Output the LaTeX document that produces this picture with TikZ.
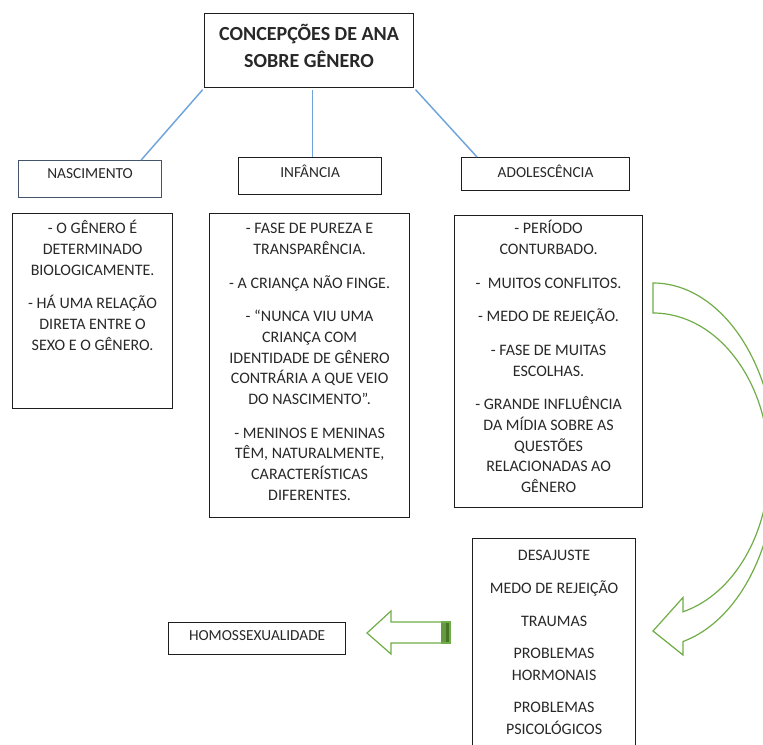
\documentclass[tikz,border=0pt]{standalone}
\usepackage{fontspec}
\setmainfont{Carlito}
\usetikzlibrary{calc}

\definecolor{inkgray}{RGB}{40,40,40}
\definecolor{framegray}{RGB}{30,30,30}
\definecolor{slate}{RGB}{68,84,106}
\definecolor{linkblue}{RGB}{112,164,218}
\definecolor{arrowgreen}{RGB}{112,173,71}
\definecolor{arrowmid}{RGB}{100,155,62}
\definecolor{arrowdark}{RGB}{70,115,40}

% font set-ups used inside the boxes
\newcommand{\titlefont}{\bfseries\fontsize{15}{20.25}\selectfont}
\newcommand{\headfont}{\fontsize{11.5}{14}\selectfont}
\newcommand{\bodyfont}{\fontsize{12}{15.5}\selectfont\setlength{\parskip}{9.75pt}}
\newcommand{\listfont}{\fontsize{12}{16}\selectfont\setlength{\parskip}{8.5pt}}

% fixed-size box, text centred and hung from the top:
% #1 width, #2 height, #3 first baseline below top, #4 font, #5 text
\newcommand{\tbox}[5]{\parbox[c][#2][t]{#1}{#4\centering\rule{0pt}{#3}\ignorespaces#5}}

\begin{document}
\begin{tikzpicture}[x=0.75pt,y=0.75pt,
  box/.style={draw=framegray, line width=0.9pt, inner sep=0pt, anchor=north west, text=inkgray},
  link/.style={draw=linkblue, line width=1.1pt, shorten <=1.5pt},
  hollow/.style={draw=arrowgreen, line width=0.9pt, line join=miter, fill=white}]

\useasboundingbox (0,0) rectangle (763,744);
\clip (0,0) rectangle (763,744);

% title
\node[box] (title) at (204,731)
  {\tbox{156.75pt}{55.5pt}{19.9pt}{\titlefont}{CONCEPÇÕES DE ANA\\SOBRE GÊNERO}};

% phase headers
\node[box, draw=slate] (nasc) at (18,584)
  {\tbox{107.25pt}{27.75pt}{13.7pt}{\headfont}{NASCIMENTO}};
\node[box] (inf) at (238,587)
  {\tbox{107.25pt}{27.75pt}{15.2pt}{\headfont}{INFÂNCIA}};
\node[box] (ado) at (461,587)
  {\tbox{126pt}{24.75pt}{15.2pt}{\headfont}{ADOLESCÊNCIA}};

% phase descriptions
\node[box] (nascbody) at (12,531)
  {\tbox{120pt}{146.25pt}{15.2pt}{\bodyfont}{%
   - O GÊNERO É\\DETERMINADO\\BIOLOGICAMENTE.\par
   - HÁ UMA RELAÇÃO\\DIRETA ENTRE O\\SEXO E O GÊNERO.}};
\node[box] (infbody) at (209,531)
  {\tbox{150pt}{228pt}{15.2pt}{\bodyfont}{%
   - FASE DE PUREZA E\\TRANSPARÊNCIA.\par
   - A CRIANÇA NÃO FINGE.\par
   - “NUNCA VIU UMA\\CRIANÇA COM\\IDENTIDADE DE GÊNERO\\CONTRÁRIA A QUE VEIO\\DO NASCIMENTO”.\par
   - MENINOS E MENINAS\\TÊM, NATURALMENTE,\\CARACTERÍSTICAS\\DIFERENTES.}};
\node[box] (adobody) at (454,529)
  {\tbox{141pt}{219pt}{13.7pt}{\bodyfont}{%
   - PERÍODO\\CONTURBADO.\par
   -\ \ MUITOS CONFLITOS.\par
   - MEDO DE REJEIÇÃO.\par
   - FASE DE MUITAS\\ESCOLHAS.\par
   - GRANDE INFLUÊNCIA\\DA MÍDIA SOBRE AS\\QUESTÕES\\RELACIONADAS AO\\GÊNERO}};

% consequences
\node[box] (conseq) at (472,206)
  {\tbox{122.25pt}{180pt}{16.7pt}{\listfont}{%
   DESAJUSTE\par
   MEDO DE REJEIÇÃO\par
   TRAUMAS\par
   PROBLEMAS\\HORMONAIS\par
   PROBLEMAS\\PSICOLÓGICOS}};
\node[box] (homo) at (168,122)
  {\tbox{132.75pt}{24pt}{13.5pt}{\headfont}{HOMOSSEXUALIDADE}};

% links from the title
\draw[link] (title.south west) -- ($(nasc.north east)+(-21,0)$);
\draw[link] ($(title.south)+(3.5,0)$) -- ($(inf.north)+(2.5,0)$);
\draw[link] (title.south east) -- ($(ado.north west)+(16,0)$);

% curved hollow arrow towards the consequences
\draw[hollow] (653,431)
  arc[start angle=90, end angle=-75, x radius=116, y radius=152]
  -- (683,146.5) -- (653,113) -- (683,89) -- (683,102.5)
  arc[start angle=-75.9, end angle=90, x radius=123, y radius=182]
  -- cycle;

% hollow left arrow towards the conclusion
\draw[hollow] (367,111) -- (391,133) -- (391,122) -- (450,122)
  -- (450,101) -- (391,101) -- (391,90) -- cycle;
\fill[arrowmid] (441,101.5) rectangle (445.5,121.5);
\fill[arrowdark] (445.5,101.5) rectangle (450,121.5);
\draw[arrowgreen, line width=0.9pt] (441,122) -- (450,122) -- (450,101) -- (441,101);

\end{tikzpicture}
\end{document}
